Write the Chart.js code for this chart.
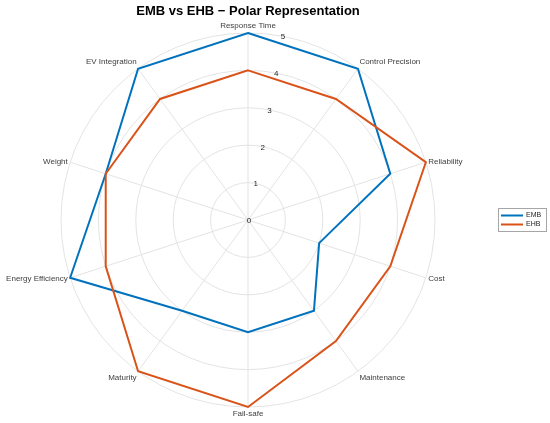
<!DOCTYPE html>
<html><head><meta charset="utf-8">
<script src="https://cdn.jsdelivr.net/npm/chart.js@4"></script>
<style>html,body{margin:0;padding:0;background:#fff;}#wrap{width:550px;height:423px;}</style>
</head><body><div id="wrap"><canvas id="c" width="550" height="423"></canvas></div>
<script>
const categories = ['Response Time','Control Precision','Reliability','Cost','Maintenance','Fail-safe','Maturity','Energy Efficiency','Weight','EV Integration'];
const embValues = [5,5,4,2,3,3,3,5,4,5];
const ehbValues = [4,4,5,4,4,5,5,4,4,4];
const seriesNames = ['EMB','EHB'];
const seriesColors = ['#0072BD','#D95319'];
const radialTicks = [0,1,2,3,4,5];
const titleText = 'EMB vs EHB \u2212 Polar Representation';
const FONT = '"Liberation Sans", Arial, Helvetica, sans-serif';

const decorPlugin = {
  id: 'decor',
  afterDraw(chart) {
    const ctx = chart.ctx;
    const s = chart.scales.r;
    ctx.save();
    // title
    ctx.font = 'bold 13px ' + FONT;
    ctx.fillStyle = '#000';
    ctx.textAlign = 'center';
    ctx.textBaseline = 'middle';
    ctx.fillText(titleText, s.xCenter, 11);
    // category labels (MATLAB-style placement)
    ctx.font = '8px ' + FONT;
    ctx.fillStyle = '#404040';
    chart.data.labels.forEach((lab, i) => {
      const p = s.getPointPosition(i, s.drawingArea + 2.5);
      const c = Math.cos(p.angle), sn = Math.sin(p.angle);
      ctx.textAlign = c > 0.01 ? 'left' : (c < -0.01 ? 'right' : 'center');
      let y = p.y;
      if (sn < -0.5) y -= 4.5; else if (sn > 0.5) y += 4.5;
      ctx.fillText(lab, p.x, y);
    });
    // radial tick labels along 80 deg direction
    ctx.textAlign = 'center';
    ctx.fillStyle = '#262626';
    const a = 10.5 * Math.PI / 180;
    radialTicks.forEach(v => {
      const d = s.getDistanceFromCenterForValue(v);
      ctx.fillText(String(v), s.xCenter + d * Math.sin(a) + 1, s.yCenter - d * Math.cos(a) + 1);
    });
    // legend
    const lx = chart.width - 52, ly = 208, lw = 48, lh = 23;
    ctx.fillStyle = '#fff';
    ctx.fillRect(lx, ly, lw, lh);
    ctx.strokeStyle = '#a6a6a6';
    ctx.lineWidth = 1;
    ctx.strokeRect(lx + 0.5, ly + 0.5, lw, lh);
    ctx.textAlign = 'left';
    ctx.font = '7px ' + FONT;
    chart.data.datasets.forEach((ds, i) => {
      const y = ly + 7.5 + i * 9;
      ctx.strokeStyle = ds.borderColor;
      ctx.lineWidth = 2;
      ctx.beginPath();
      ctx.moveTo(lx + 3, y);
      ctx.lineTo(lx + 25, y);
      ctx.stroke();
      ctx.fillStyle = '#262626';
      ctx.fillText(ds.label, lx + 28, y);
    });
    ctx.restore();
  }
};

new Chart(document.getElementById('c'), {
  type: 'radar',
  data: {
    labels: categories,
    datasets: [
      { label: seriesNames[0], data: embValues, borderColor: seriesColors[0], backgroundColor: seriesColors[0], order: 1 },
      { label: seriesNames[1], data: ehbValues, borderColor: seriesColors[1], backgroundColor: seriesColors[1], order: 0 }
    ]
  },
  options: {
    responsive: false,
    devicePixelRatio: 1,
    animation: false,
    layout: { padding: { top: 33, bottom: 16, left: 61, right: 115 } },
    elements: {
      line: { borderWidth: 2, tension: 0, fill: false },
      point: { radius: 0, hoverRadius: 0 }
    },
    plugins: { legend: { display: false }, title: { display: false }, tooltip: { enabled: false } },
    scales: {
      r: {
        min: 0, max: 5,
        ticks: { display: false, stepSize: 1 },
        grid: { circular: true, color: '#e3e3e3', lineWidth: 1 },
        angleLines: { color: '#e3e3e3', lineWidth: 1 },
        pointLabels: { display: false }
      }
    }
  },
  plugins: [decorPlugin]
});
</script></body></html>
